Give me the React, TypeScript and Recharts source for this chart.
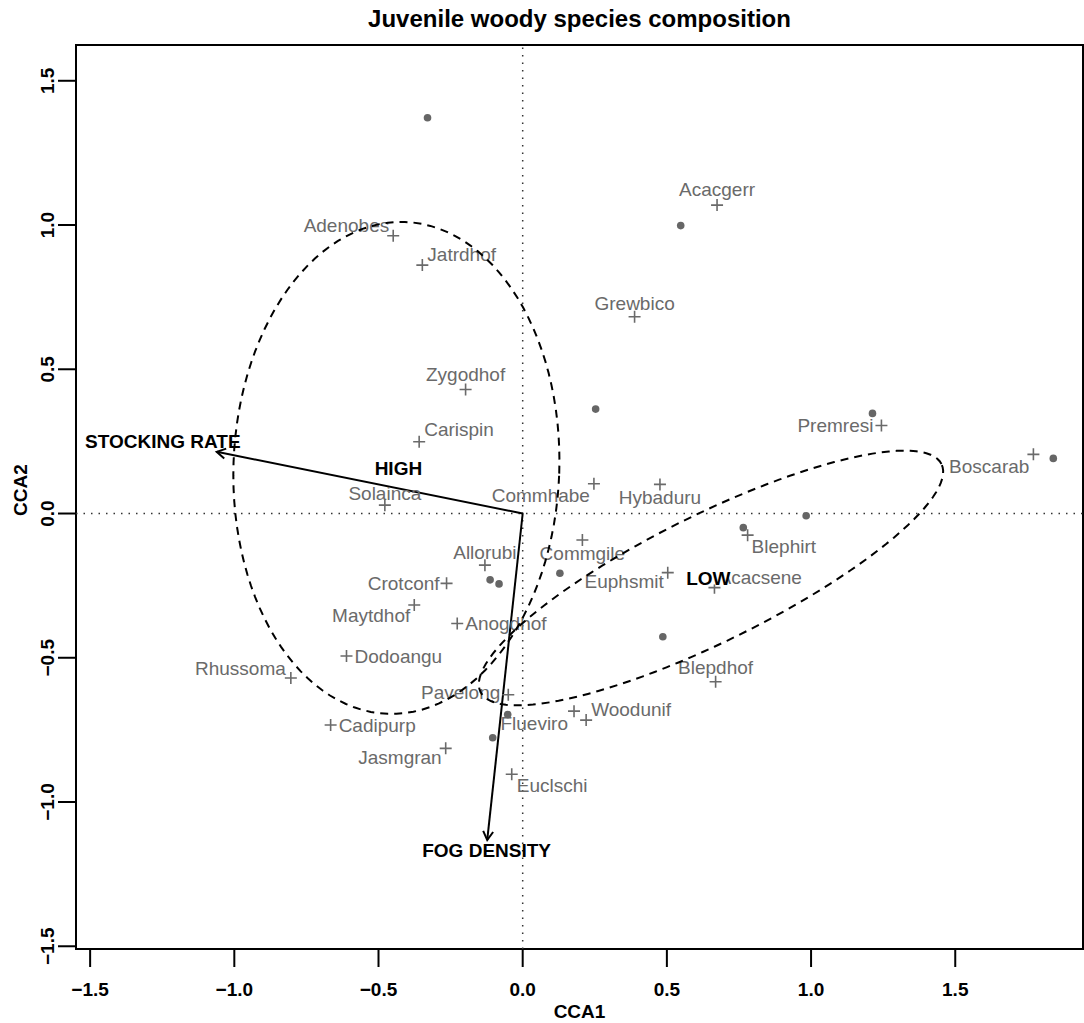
import React from "react";
import {
  ScatterChart,
  Scatter,
  XAxis,
  YAxis,
  ReferenceLine,
  ReferenceArea,
  Label,
} from "recharts";

const FONT = "'Liberation Sans', Arial, Helvetica, sans-serif";
const GREY = "#6a6a6a";

// axis ranges (R style, a bit wider than the ticks)
const X_MIN = -1.549;
const X_MAX = 1.943;
const Y_MIN = -1.5095;
const Y_MAX = 1.624;
const xTicks = [-1.5, -1.0, -0.5, 0.0, 0.5, 1.0, 1.5];
const yTicks = [-1.5, -1.0, -0.5, 0.0, 0.5, 1.0, 1.5];

// species scores
const speciesNames = [
  "Acacgerr", "Adenobes", "Jatrdhof", "Grewbico", "Zygodhof", "Carispin", "Premresi",
  "Boscarab", "Solainca", "Commhabe", "Hybaduru", "Blephirt", "Allorubi", "Commgile",
  "Crotconf", "Euphsmit", "Acacsene", "Maytdhof", "Anogdhof", "Dodoangu", "Rhussoma",
  "Blepdhof", "Pavelong", "Cadipurp", "Flueviro", "Woodunif", "Jasmgran", "Euclschi",
];
const speciesCCA1 = [
  0.674, -0.449, -0.348, 0.388, -0.198, -0.359, 1.244,
  1.771, -0.478, 0.247, 0.476, 0.78, -0.131, 0.207,
  -0.264, 0.503, 0.665, -0.376, -0.227, -0.611, -0.804,
  0.669, -0.05, -0.666, 0.178, 0.22, -0.267, -0.038,
];
const speciesCCA2 = [
  1.069, 0.963, 0.861, 0.682, 0.43, 0.249, 0.305,
  0.205, 0.029, 0.103, 0.101, -0.075, -0.179, -0.092,
  -0.242, -0.205, -0.257, -0.317, -0.381, -0.494, -0.57,
  -0.583, -0.628, -0.733, -0.685, -0.716, -0.814, -0.904,
];

// site scores
const siteCCA1 = [-0.33, 0.548, 0.253, 1.213, 1.84, 0.983, 0.765, 0.129, -0.113, -0.082, 0.486, -0.052, -0.104];
const siteCCA2 = [1.372, 0.998, 0.362, 0.347, 0.191, -0.008, -0.049, -0.207, -0.23, -0.244, -0.427, -0.697, -0.777];

// environmental arrows
const biplotNames = ["STOCKING RATE", "FOG DENSITY"];
const biplotCCA1 = [-1.061, -0.123];
const biplotCCA2 = [0.214, -1.132];
const biplotLabelCCA1 = [-1.248, -0.125];
const biplotLabelCCA2 = [0.249, -1.167];

// factor centroids
const centroidNames = ["HIGH", "LOW"];
const centroidCCA1 = [-0.431, 0.644];
const centroidCCA2 = [0.157, -0.225];

// dispersion ellipses: centre, semi axes, rotation in degrees
const ellipseCentre1 = [-0.438, 0.653];
const ellipseCentre2 = [0.158, -0.2235];
const ellipseSemiA = [0.565, 0.8915];
const ellipseSemiB = [0.853, 0.22];
const ellipseAngle = [-2, 26.3];

// where each species name sits next to its cross: dx, dy (px), anchor
const labelPlace: Record<string, [number, number, "start" | "middle" | "end"]> = {
  Acacgerr: [0, -16, "middle"],
  Adenobes: [-4, -10, "end"],
  Jatrdhof: [5, -11, "start"],
  Grewbico: [0, -13, "middle"],
  Zygodhof: [0, -15, "middle"],
  Carispin: [5, -12, "start"],
  Premresi: [-8, 0, "end"],
  Boscarab: [-4, 12, "end"],
  Solainca: [0, -12, "middle"],
  Commhabe: [-4, 12, "end"],
  Hybaduru: [0, 13, "middle"],
  Blephirt: [4, 11, "start"],
  Allorubi: [0, -13, "middle"],
  Commgile: [0, 13, "middle"],
  Crotconf: [-7, 0, "end"],
  Euphsmit: [-4, 9, "end"],
  Acacsene: [4, -10, "start"],
  Maytdhof: [-4, 10, "end"],
  Anogdhof: [8, 0, "start"],
  Dodoangu: [8, 0, "start"],
  Rhussoma: [-5, -10, "end"],
  Blepdhof: [0, -14, "middle"],
  Pavelong: [-8, -2, "end"],
  Cadipurp: [8, 0, "start"],
  Flueviro: [-6, 12, "end"],
  Woodunif: [5, -11, "start"],
  Jasmgran: [-4, 9, "end"],
  Euclschi: [5, 11, "start"],
};

const species = speciesNames.map((name, i) => ({ name, x: speciesCCA1[i], y: speciesCCA2[i] }));
const sites = siteCCA1.map((x, i) => ({ x, y: siteCCA2[i] }));
const arrowTips = biplotNames.map((name, i) => ({ name, x: biplotCCA1[i], y: biplotCCA2[i] }));
const arrowLabels = biplotNames.map((name, i) => ({ name, x: biplotLabelCCA1[i], y: biplotLabelCCA2[i] }));
const centroids = centroidNames.map((name, i) => ({ name, x: centroidCCA1[i], y: centroidCCA2[i] }));

function ellipseOutline(i: number) {
  const rad = (ellipseAngle[i] * Math.PI) / 180;
  const pts = [];
  for (let k = 0; k <= 120; k++) {
    const t = (k / 120) * 2 * Math.PI;
    const u = ellipseSemiA[i] * Math.cos(t);
    const v = ellipseSemiB[i] * Math.sin(t);
    pts.push({
      x: ellipseCentre1[i] + u * Math.cos(rad) - v * Math.sin(rad),
      y: ellipseCentre2[i] + u * Math.sin(rad) + v * Math.cos(rad),
    });
  }
  return pts;
}
const ellipses = centroidNames.map((_, i) => ellipseOutline(i));

const fmt = (v: number) => v.toFixed(1).replace("-", "\u2212");

const XTick = ({ x, y, payload }: any) => (
  <text x={x} y={y + 27} textAnchor="middle" fontFamily={FONT} fontWeight="bold" fontSize={19} fill="#000">
    {fmt(payload.value)}
  </text>
);

const YTick = ({ x, y, payload }: any) => (
  <text
    x={x - 2}
    y={y}
    transform={`rotate(-90, ${x - 2}, ${y})`}
    textAnchor="middle"
    fontFamily={FONT}
    fontWeight="bold"
    fontSize={19}
    fill="#000"
  >
    {fmt(payload.value)}
  </text>
);

const SpeciesMark = (props: any) => {
  const { cx, cy, payload } = props;
  const [dx, dy, anchor] = labelPlace[payload.name] ?? [0, -14, "middle"];
  return (
    <g>
      <path d={`M${cx - 6},${cy}H${cx + 6}M${cx},${cy - 6}V${cy + 6}`} stroke={GREY} strokeWidth={1.6} />
      <text x={cx + dx} y={cy + dy} dy="0.35em" textAnchor={anchor} fontFamily={FONT} fontSize={19} fill={GREY}>
        {payload.name}
      </text>
    </g>
  );
};

const SiteDot = ({ cx, cy }: any) => <circle cx={cx} cy={cy} r={3.8} fill="#666" />;

const ArrowHead = ({ cx, cy, payload }: any) => {
  const back = Math.atan2(-payload.y, payload.x) + Math.PI;
  const L = 10;
  const s = Math.PI / 6;
  const a = [cx + L * Math.cos(back - s), cy + L * Math.sin(back - s)];
  const b = [cx + L * Math.cos(back + s), cy + L * Math.sin(back + s)];
  return <path d={`M${a[0]},${a[1]}L${cx},${cy}L${b[0]},${b[1]}`} fill="none" stroke="#000" strokeWidth={2} />;
};

const BoldText = ({ cx, cy, payload }: any) => (
  <text x={cx} y={cy} dy="0.35em" textAnchor="middle" fontFamily={FONT} fontWeight="bold" fontSize={19} fill="#000">
    {payload.name}
  </text>
);

const CentroidText = ({ cx, cy, payload }: any) => {
  const w = payload.name.length * 11.5 + 4;
  return (
    <g>
      <rect x={cx - w / 2} y={cy - 8} width={w} height={14} fill="#fff" />
      <text x={cx} y={cy} dy="0.35em" textAnchor="middle" fontFamily={FONT} fontWeight="bold" fontSize={19} fill="#000">
        {payload.name}
      </text>
    </g>
  );
};

const NoShape = () => <g />;

export default function App() {
  return (
    <div style={{ position: "absolute", left: 0, top: 0, width: 1084, height: 1023, background: "#fff" }}>
      <div
        style={{
          position: "absolute",
          left: 76,
          width: 1007,
          top: 6,
          textAlign: "center",
          fontFamily: FONT,
          fontWeight: "bold",
          fontSize: 24,
          lineHeight: "25px",
          color: "#000",
        }}
      >
        Juvenile woody species composition
      </div>
      <ScatterChart width={1084} height={1023} margin={{ top: 45, right: 1, bottom: 0, left: 0 }}>
        <XAxis
          type="number"
          dataKey="x"
          domain={[X_MIN, X_MAX]}
          ticks={xTicks}
          allowDataOverflow
          axisLine={false}
          tickSize={18}
          tickLine={{ stroke: "#000", strokeWidth: 2 }}
          tick={<XTick />}
          height={74}
          interval={0}
        >
          <Label
            content={(p: any) => {
              const vb = p.viewBox;
              return (
                <text x={vb.x + vb.width / 2} y={vb.y + vb.height - 5} textAnchor="middle" fontFamily={FONT} fontWeight="bold" fontSize={19} fill="#000">
                  CCA1
                </text>
              );
            }}
          />
        </XAxis>
        <YAxis
          type="number"
          dataKey="y"
          domain={[Y_MIN, Y_MAX]}
          ticks={yTicks}
          allowDataOverflow
          axisLine={false}
          tickSize={18}
          tickLine={{ stroke: "#000", strokeWidth: 2 }}
          tick={<YTick />}
          width={76}
          interval={0}
        >
          <Label
            content={(p: any) => {
              const vb = p.viewBox;
              const x = vb.x + 27;
              const y = vb.y + vb.height / 2 - 7;
              return (
                <text x={x} y={y} transform={`rotate(-90, ${x}, ${y})`} textAnchor="middle" fontFamily={FONT} fontWeight="bold" fontSize={19} fill="#000">
                  CCA2
                </text>
              );
            }}
          />
        </YAxis>
        <ReferenceArea x1={X_MIN} x2={X_MAX} y1={Y_MIN} y2={Y_MAX} fill="none" fillOpacity={0} stroke="#000" strokeWidth={2} ifOverflow="visible" />
        <ReferenceLine x={0} stroke="#333" strokeWidth={1.5} strokeDasharray="1.5 6" />
        <ReferenceLine y={0} stroke="#333" strokeWidth={1.5} strokeDasharray="1.5 6" />

        <Scatter data={species} shape={<SpeciesMark />} isAnimationActive={false} />
        <Scatter data={sites} shape={<SiteDot />} isAnimationActive={false} />

        {ellipses.map((pts, i) => (
          <Scatter
            key={centroidNames[i]}
            data={pts}
            shape={<NoShape />}
            line={{ stroke: "#000", strokeWidth: 2, strokeDasharray: "8 6" }}
            lineType="joint"
            isAnimationActive={false}
          />
        ))}

        {arrowTips.map((t) => (
          <ReferenceLine
            key={t.name}
            segment={[
              { x: 0, y: 0 },
              { x: t.x, y: t.y },
            ]}
            stroke="#000"
            strokeWidth={2}
            ifOverflow="visible"
          />
        ))}
        <Scatter data={arrowTips} shape={<ArrowHead />} isAnimationActive={false} />
        <Scatter data={arrowLabels} shape={<BoldText />} isAnimationActive={false} />
        <Scatter data={centroids} shape={<CentroidText />} isAnimationActive={false} />
      </ScatterChart>
    </div>
  );
}
